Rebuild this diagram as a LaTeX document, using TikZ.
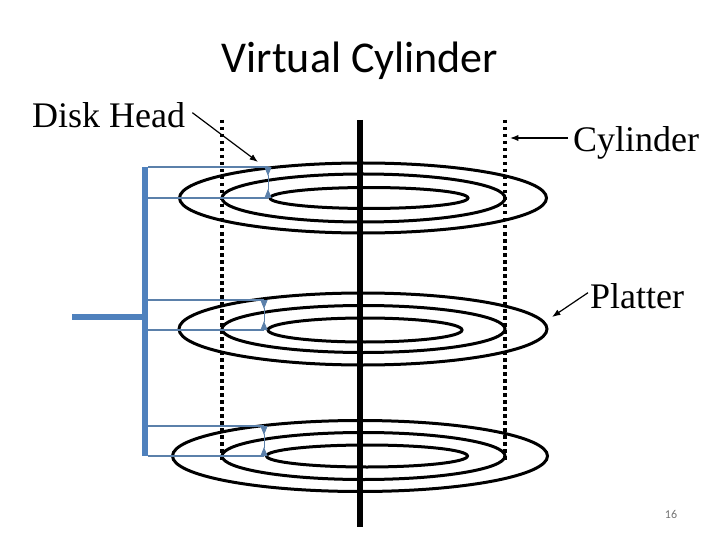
\documentclass[tikz,border=0pt]{standalone}
\usepackage{fontspec}
\setmainfont{Liberation Serif}
\newfontfamily\titlefont{Carlito}
\usetikzlibrary{arrows.meta, positioning, shapes.geometric}
\definecolor{armblue}{RGB}{91,128,170}
\definecolor{barblue}{RGB}{79,129,189}

\begin{document}
\begin{tikzpicture}[
    x=1pt, y=-1pt,
    platter/.style={draw, ellipse, line width=3pt, inner sep=0pt, outer sep=0pt},
    label/.style={font=\fontsize{36}{40}\selectfont, inner sep=0pt},
    bluebar/.style={fill=barblue, inner sep=0pt, outer sep=0pt},
    armline/.style={draw=armblue, line width=1.6pt},
    headline/.style={draw=armblue, line width=0.8pt, {Triangle[reversed, length=9pt, width=7pt]}-{Triangle[reversed, length=9pt, width=7pt]}},
    dotline/.style={line width=3.5pt, dash pattern=on 3.5pt off 3.5pt},
    pointer/.style={-Latex, line width=1.2pt}
]
  \useasboundingbox (0,0) rectangle (720,540);

  \node[font=\titlefont\fontsize{44}{48}\selectfont, inner sep=0pt] (title) at (360,61) {Virtual Cylinder};

  % platters
  \node[platter, minimum width=367pt, minimum height=70pt] (o1) at (363,198) {};
  \node[platter, minimum width=283pt, minimum height=48pt] (m1) at (363.5,198) {};
  \node[platter, minimum width=198pt, minimum height=21pt] (n1) at (369,198) {};
  \node[platter, minimum width=368pt, minimum height=72pt] (o2) at (363,329) {};
  \node[platter, minimum width=283pt, minimum height=47pt] (m2) at (363.5,329) {};
  \node[platter, minimum width=194pt, minimum height=24pt] (n2) at (365,330) {};
  \node[platter, minimum width=375pt, minimum height=71pt] (o3) at (360,456) {};
  \node[platter, minimum width=283pt, minimum height=47pt] (m3) at (363.5,456) {};
  \node[platter, minimum width=201pt, minimum height=22pt] (n3) at (367,456) {};

  % cylinder
  \coordinate (ct) at (360,120);
  \coordinate (cb) at (360,527);
  \coordinate (lt) at (222,120);
  \coordinate (lb) at (222,460);
  \coordinate (rt) at (505,120);
  \coordinate (rb) at (505,460);
  \draw[dotline] (lt) -- (lb);
  \draw[dotline] (rt) -- (rb);
  \draw[line width=6pt] (ct) -- (cb);

  % arm
  \node[bluebar, minimum width=6pt, minimum height=289pt] (spine) at (145,311.5) {};
  \node[bluebar, minimum width=71pt, minimum height=6pt] (stub) at (107,317) {};
  \coordinate (a1) at (268,167);
  \coordinate (b1) at (268,198);
  \coordinate (a2) at (264,300);
  \coordinate (b2) at (264,330);
  \coordinate (a3) at (264,426);
  \coordinate (b3) at (264,456);
  \draw[armline] (spine.east |- a1) -- (a1);
  \draw[armline] (spine.east |- b1) -- (b1);
  \draw[armline] (spine.east |- a2) -- (a2);
  \draw[armline] (spine.east |- b2) -- (b2);
  \draw[armline] (spine.east |- a3) -- (a3);
  \draw[armline] (spine.east |- b3) -- (b3);
  \draw[headline] (a1) -- (b1);
  \draw[headline] (a2) -- (b2);
  \draw[headline] (a3) -- (b3);

  % labels
  \node[label, anchor=base west] (disk) at (32,128) {Disk Head};
  \node[label, anchor=base west] (cyl) at (573,152) {Cylinder};
  \node[label, anchor=base west] (plat) at (590,308) {Platter};
  \node[font=\titlefont\fontsize{12}{14}\selectfont, text=black!55, inner sep=0pt] (page) at (671,514) {16};
  \coordinate (dtip) at (258,162);
  \coordinate (ctip) at (510,138);
  \coordinate (ptip) at (552,317);
  \draw[pointer] (disk.east) ++(7,-3) -- (dtip);
  \draw[pointer] (cyl.west |- ctip) ++(-5,0) -- (ctip);
  \draw[pointer] (plat.west) ++(-2,-3) -- (ptip);
\end{tikzpicture}
\end{document}
